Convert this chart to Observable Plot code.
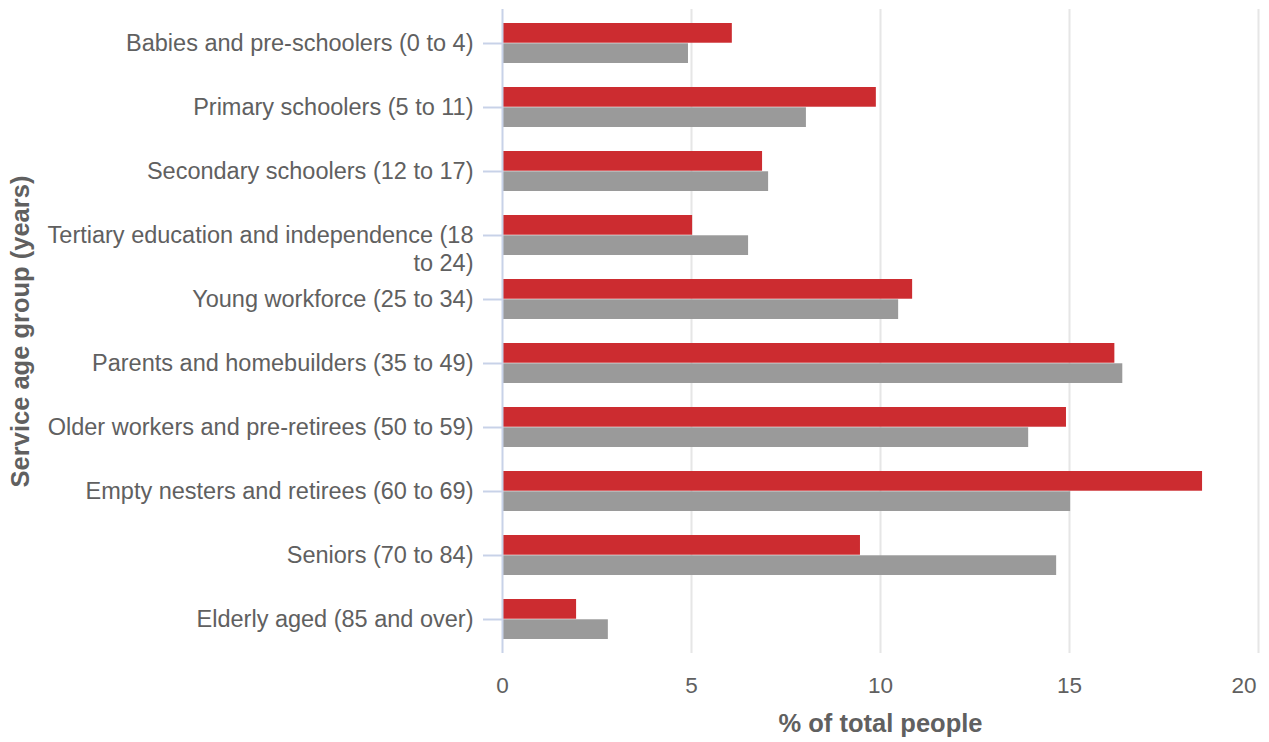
<!DOCTYPE html>
<html>
<head>
<meta charset="utf-8">
<script src="https://cdn.jsdelivr.net/npm/d3@7"></script>
<script src="https://cdn.jsdelivr.net/npm/@observablehq/plot@0.6"></script>
<style>
  html, body { margin: 0; padding: 0; background: #ffffff; overflow: hidden; }
</style>
</head>
<body>
<div id="chart"></div>
<script>
// ---- Data ----
const categories = [
  "Babies and pre-schoolers (0 to 4)",
  "Primary schoolers (5 to 11)",
  "Secondary schoolers (12 to 17)",
  "Tertiary education and independence (18 to 24)",
  "Young workforce (25 to 34)",
  "Parents and homebuilders (35 to 49)",
  "Older workers and pre-retirees (50 to 59)",
  "Empty nesters and retirees (60 to 69)",
  "Seniors (70 to 84)",
  "Elderly aged (85 and over)"
];
const tickLabels = [
  "Babies and pre-schoolers (0 to 4)",
  "Primary schoolers (5 to 11)",
  "Secondary schoolers (12 to 17)",
  "Tertiary education and independence (18\nto 24)",
  "Young workforce (25 to 34)",
  "Parents and homebuilders (35 to 49)",
  "Older workers and pre-retirees (50 to 59)",
  "Empty nesters and retirees (60 to 69)",
  "Seniors (70 to 84)",
  "Elderly aged (85 and over)"
];
const areaValues = [6.08, 9.89, 6.88, 5.03, 10.85, 16.2, 14.92, 18.52, 9.47, 1.96];
const benchmarkValues = [4.92, 8.04, 7.04, 6.51, 10.48, 16.41, 13.92, 15.03, 14.66, 2.80];
const xTicks = [0, 5, 10, 15, 20];
const xLabel = "% of total people";
const yLabel = "Service age group (years)";

// ---- Layout ----
const W = 1269, H = 742;
const mTop = 9, mBottom = 89, mLeft = 502, mRight = 11;
const padIn = 0.37, padOut = 0.186;
const step = (H - mTop - mBottom) / (categories.length - padIn + 2 * padOut);
const bw = step * (1 - padIn);
const half = bw / 2;

const areaRows = categories.map((c, i) => ({category: c, value: areaValues[i]}));
const benchRows = categories.map((c, i) => ({category: c, value: benchmarkValues[i]}));
const labelRows = categories.map((c, i) => ({category: c, lines: tickLabels[i].split("\n")}));
const lastTick = xTicks[xTicks.length - 1];

const textColor = "#606060";
const axisBlue = "#c8d2e8";

const chart = Plot.plot({
  width: W,
  height: H,
  marginTop: mTop,
  marginBottom: mBottom,
  marginLeft: mLeft,
  marginRight: mRight,
  style: {fontFamily: "'Liberation Sans', Arial, sans-serif", fontSize: "23px", color: textColor, background: "#ffffff"},
  x: {domain: [0, 20], axis: null},
  y: {domain: categories, paddingInner: padIn, paddingOuter: padOut, axis: null},
  marks: [
    Plot.ruleX(xTicks.filter(d => d > 0), {stroke: "#e6e6e6", strokeWidth: 2}),
    Plot.barX(areaRows, {x: "value", y: "category", fill: "#cc2c30", insetBottom: half}),
    Plot.barX(benchRows, {x: "value", y: "category", fill: "#9a9a9a", insetTop: half}),
    Plot.ruleX([0], {stroke: axisBlue, strokeWidth: 2}),
    Plot.axisY({tickSize: 19, tickFormat: () => "", stroke: axisBlue, strokeWidth: 2, label: null}),
    // x tick labels (last one pulled inside the frame)
    Plot.text(xTicks.filter(d => d !== lastTick), {x: d => d, text: d => String(d), frameAnchor: "bottom", textAnchor: "middle", lineAnchor: "middle", dy: 32, fontSize: 22.5, fill: textColor}),
    Plot.text([lastTick], {x: d => d, text: d => String(d), frameAnchor: "bottom", textAnchor: "end", lineAnchor: "middle", dy: 32, dx: -2, fontSize: 22.5, fill: textColor}),
    Plot.text(labelRows, {y: "category", text: d => d.lines[0], frameAnchor: "left", textAnchor: "end", lineAnchor: "middle", dx: -29, fontSize: 23.5, fill: textColor}),
    Plot.text(labelRows.filter(d => d.lines.length > 1), {y: "category", text: d => d.lines[1], frameAnchor: "left", textAnchor: "end", lineAnchor: "middle", dx: -29, dy: 28, fontSize: 23.5, fill: textColor}),
    Plot.text([xLabel], {text: d => d, frameAnchor: "bottom", textAnchor: "middle", lineAnchor: "middle", dy: 70, fontSize: 25.5, fontWeight: "bold", fill: textColor}),
    Plot.text([yLabel], {text: d => d, frameAnchor: "left", textAnchor: "middle", lineAnchor: "middle", dx: -482, rotate: -90, fontSize: 25.5, fontWeight: "bold", fill: textColor})
  ]
});
document.getElementById("chart").appendChild(chart);
</script>
</body>
</html>
